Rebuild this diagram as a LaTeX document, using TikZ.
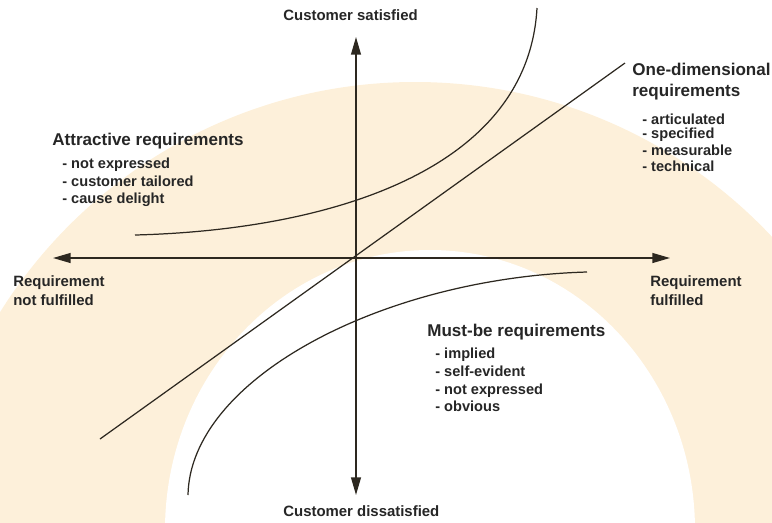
\documentclass[tikz,border=0pt]{standalone}
\usepackage{fontspec}
\setmainfont{Liberation Sans}
\usetikzlibrary{arrows.meta}
\definecolor{kanobg}{RGB}{253,240,218}
\definecolor{kanoline}{RGB}{45,40,32}
\definecolor{kanotext}{RGB}{38,38,38}
\tikzset{
  axis/.style={draw=kanoline, line width=0.85pt, {Triangle[length=10pt,width=5.6pt]}-{Triangle[length=10pt,width=5.6pt]}},
  curve/.style={draw=kanoline, line width=0.7pt},
  head/.style={font=\fontsize{9.7}{11}\selectfont\bfseries, text=kanotext, anchor=west, inner sep=0pt, text height=7pt, text depth=2pt},
  bullet/.style={font=\fontsize{8.3}{10}\selectfont\bfseries, text=kanotext, anchor=west, inner sep=0pt, text height=6pt, text depth=1.7pt},
  axlabel/.style={font=\fontsize{8.5}{10}\selectfont\bfseries, text=kanotext, anchor=west, inner sep=0pt, text height=6.2pt, text depth=1.7pt}
}
\begin{document}
\begin{tikzpicture}[x=0.02cm, y=-0.02cm]
\useasboundingbox (0,0) rectangle (772,522);
% background band
\begin{scope}
\clip (0,0) rectangle (772,522);
\fill[kanobg] (415,571) ellipse [x radius=489, y radius=489];
\fill[white] (430,530) ellipse [x radius=265, y radius=280];
\end{scope}
\path coordinate (xlo) at (53,258)
coordinate (xhi) at (670,258)
coordinate (ylo) at (356,495)
coordinate (yhi) at (356,37)
coordinate (lin0) at (100,439)
coordinate (lin1) at (625,63)
coordinate (att0) at (135,235)
coordinate (att1) at (537,8)
coordinate (mus0) at (188,495)
coordinate (mus1) at (587,272)
node[axlabel] (sat) at (283,17) {Customer satisfied}
node[axlabel] (dissat) at (283,513) {Customer dissatisfied}
node[axlabel] (notful) at (13,283) {Requirement}
node[axlabel] (notful2) at (13,302) {not fulfilled}
node[axlabel] (ful) at (650,283) {Requirement}
node[axlabel] (ful2) at (650,302) {fulfilled}
node[head] (attr) at (52,141) {Attractive requirements}
node[bullet] (attr1) at (62,165) {- not expressed}
node[bullet] (attr2) at (62,183) {- customer tailored}
node[bullet] (attr3) at (62,200) {- cause delight}
node[head] (onedim) at (632,71) {One-dimensional}
node[head] (onedim0) at (632,92) {requirements}
node[bullet] (onedim1) at (642,121) {- articulated}
node[bullet] (onedim2) at (642,135) {- specified}
node[bullet] (onedim3) at (642,152) {- measurable}
node[bullet] (onedim4) at (642,168) {- technical}
node[head] (must) at (427,332) {Must-be requirements}
node[bullet] (must1) at (435,355) {- implied}
node[bullet] (must2) at (435,373) {- self-evident}
node[bullet] (must3) at (435,391) {- not expressed}
node[bullet] (must4) at (435,408) {- obvious}
;
\draw[axis] (xlo) -- (xhi);
\draw[axis] (ylo) -- (yhi);
\draw[curve] (lin0) -- (lin1);
% attractive and must-be curves
\draw[curve] (att0) .. controls (330,230) and (528,170) .. (att1);
\draw[curve] (mus0) .. controls (190,380) and (380,278) .. (mus1);
\end{tikzpicture}
\end{document}
